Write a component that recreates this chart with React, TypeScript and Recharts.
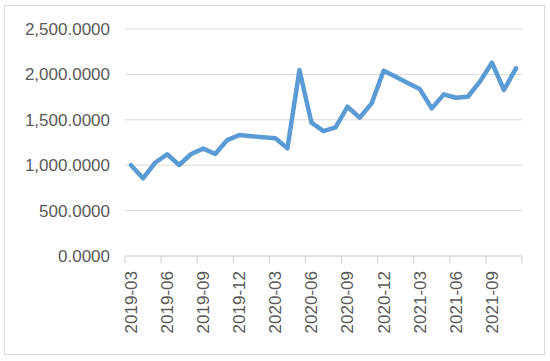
import { LineChart, Line, XAxis, YAxis, CartesianGrid } from 'recharts'

const MONTHS = [
  '2019-03', '2019-04', '2019-05', '2019-06', '2019-07', '2019-08', '2019-09', '2019-10', '2019-11', '2019-12',
  '2020-01', '2020-02', '2020-03', '2020-04', '2020-05', '2020-06', '2020-07', '2020-08', '2020-09', '2020-10',
  '2020-11', '2020-12', '2021-01', '2021-02', '2021-03', '2021-04', '2021-05', '2021-06', '2021-07', '2021-08',
  '2021-09', '2021-10', '2021-11',
]

const VALUES = [
  1000, 856, 1027, 1120, 1002, 1123, 1182, 1123, 1277, 1332,
  1320, 1308, 1296, 1186, 2048, 1468, 1376, 1417, 1644, 1523,
  1681, 2041, 1975, 1906, 1839, 1626, 1780, 1743, 1754, 1920,
  2129, 1828, 2067,
]

const Y_TICKS = [0, 500, 1000, 1500, 2000, 2500]

const W = 550
const H = 361
const MARGIN = { top: 29, right: 28, left: 0, bottom: 0 }
const Y_AXIS_W = 125
const X_AXIS_H = 105
const GRID = '#d9d9d9'
const TEXT = '#595959'
const FONT = '"Liberation Sans", Arial, sans-serif'
const FONT_SIZE = 17

const data = MONTHS.map((m, i) => ({ month: m, value: VALUES[i] }))

// width of one category band (plot width / number of months)
const band = (W - MARGIN.left - MARGIN.right - Y_AXIS_W) / MONTHS.length

const fmt = (v: number) =>
  v.toLocaleString('en-US', { minimumFractionDigits: 4, maximumFractionDigits: 4 })

// Excel-style tick: marks sit between categories, label rotated upright
function MonthTick(props: any) {
  const { x, y, payload } = props
  const left = x - band / 2
  const isLast = payload.value === '2021-09'
  return (
    <g>
      <line x1={left} x2={left} y1={y} y2={y + 7} stroke="#cfcfcf" strokeWidth={1} />
      {isLast && (
        <line x1={left + band * 3} x2={left + band * 3} y1={y} y2={y + 7} stroke="#cfcfcf" strokeWidth={1} />
      )}
      <text
        x={x}
        y={y + 15}
        dy="0.35em"
        transform={`rotate(-90, ${x}, ${y + 15})`}
        textAnchor="end"
        fill={TEXT}
        fontSize={FONT_SIZE}
        fontFamily={FONT}
      >
        {payload.value}
      </text>
    </g>
  )
}

export default function App() {
  return (
    <div style={{ position: 'absolute', left: 0, top: 0, width: W, height: H, background: '#fff' }}>
      <div
        style={{
          position: 'absolute',
          left: 4,
          top: 5,
          width: 541,
          height: 350,
          border: `1px solid ${GRID}`,
          boxSizing: 'border-box',
        }}
      />
      <LineChart width={W} height={H} data={data} margin={MARGIN} style={{ position: 'absolute', left: 0, top: 0 }}>
        <CartesianGrid vertical={false} stroke={GRID} />
        <XAxis
          dataKey="month"
          interval={2}
          height={X_AXIS_H}
          padding={{ left: band / 2, right: band / 2 }}
          axisLine={{ stroke: GRID }}
          tickLine={false}
          tickSize={0}
          tickMargin={0}
          tick={<MonthTick />}
        />
        <YAxis
          width={Y_AXIS_W}
          domain={[0, 2500]}
          ticks={Y_TICKS}
          axisLine={false}
          tickLine={false}
          tickSize={0}
          tickMargin={15}
          tickFormatter={fmt}
          tick={{ fill: TEXT, fontSize: FONT_SIZE, fontFamily: FONT }}
        />
        <Line
          type="linear"
          dataKey="value"
          stroke="#5b9bd5"
          strokeWidth={4.5}
          strokeLinejoin="round"
          strokeLinecap="round"
          dot={false}
          isAnimationActive={false}
        />
      </LineChart>
    </div>
  )
}
